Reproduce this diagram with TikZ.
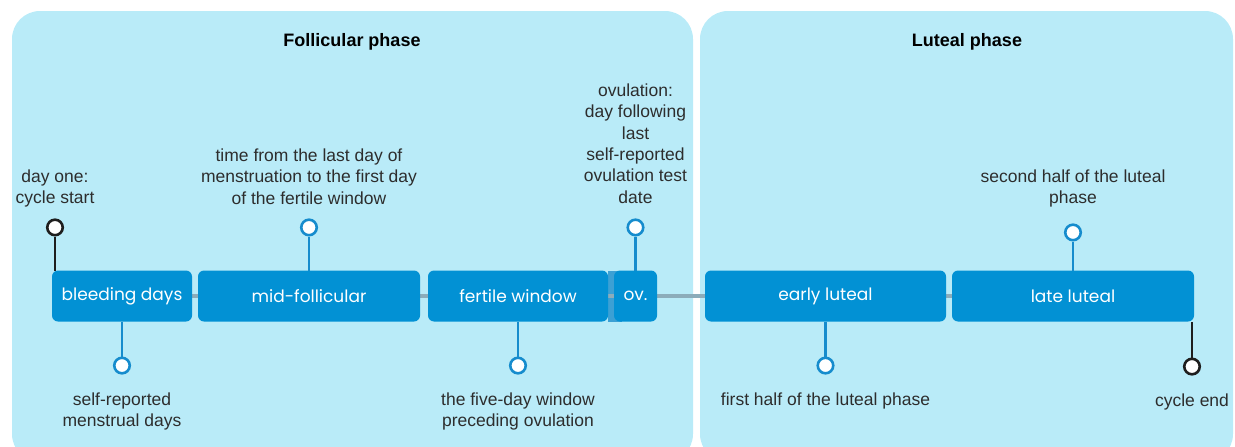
\documentclass[tikz,border=0pt]{standalone}
\usepackage{fontspec}
\setmainfont{Liberation Sans}
\newfontfamily\boxfont{Poppins}
\usetikzlibrary{positioning, backgrounds}
\definecolor{panelblue}{RGB}{185,235,248}
\definecolor{boxblue}{RGB}{2,145,212}
\definecolor{stripblue}{RGB}{60,160,212}
\definecolor{pinblue}{RGB}{22,140,205}
\definecolor{pinblack}{RGB}{30,30,30}
\definecolor{linegrey}{RGB}{140,172,186}
\definecolor{textgrey}{RGB}{45,45,45}
\tikzset{stagebox/.style={fill=boxblue, text=white, rounded corners=6pt, % the coloured stages on the timeline
    minimum height=51pt, inner sep=0pt, outer sep=0pt,
    font=\boxfont\fontsize{17}{20}\selectfont},
    knob/.style={circle, draw=pinblue, fill=white, line width=2.6pt, % round end of a pin
    minimum size=15.5pt, inner sep=0pt},
    pinstem/.style={draw=pinblue, line width=2.6pt},
    note/.style={align=center, text=textgrey, inner sep=0pt,
    font=\fontsize{17.5}{21.3}\selectfont},
    phasetitle/.style={font=\bfseries\fontsize{18}{21}\selectfont, text=black},
    timeline/.style={draw=linegrey, line width=4pt}}

\begin{document}
\begin{tikzpicture}[x=1pt, y=-1pt]
        \useasboundingbox (0,0) rectangle (1235,447);
        \begin{scope}[on background layer]
            \fill[panelblue, rounded corners=28pt] (12,11) rectangle (693,462);
            \fill[panelblue, rounded corners=28pt] (700,11) rectangle (1233,462);
        \end{scope}
        \node[phasetitle] (follicular) at (352,42) {Follicular phase};
        \node[phasetitle] (luteal) at (967,42) {Luteal phase};

        % stages
        \node[stagebox, minimum width=140pt] (bleed) at (122,296) {bleeding days};
        \node[stagebox, minimum width=222pt, right=6pt of bleed] (mid) {mid-follicular};
        \node[stagebox, minimum width=180pt, right=8pt of mid] (fertile) {fertile window};
        \node[stagebox, minimum width=43pt, right=6pt of fertile] (ov) {ov.};
        \node[stagebox, minimum width=241pt, right=48pt of ov] (early) {early luteal};
        \node[stagebox, minimum width=242pt, right=6pt of early] (late) {late luteal};

        \begin{scope}[on background layer]
            \fill[stripblue] (fertile.north east) rectangle ([xshift=8pt]ov.south west);
            \draw[timeline] (bleed.west) -- (late.east);
        \end{scope}

        % pins
        \node[knob, draw=pinblack, above=34pt of bleed.north west, xshift=3pt] (start) {};
        \node[knob, below=35pt of bleed] (bleedpin) {};
        \node[knob, above=34pt of mid] (midpin) {};
        \node[knob, below=35pt of fertile] (fertilepin) {};
        \node[knob, above=34pt of ov] (ovpin) {};
        \node[knob, below=35pt of early] (earlypin) {};
        \node[knob, above=29pt of late] (latepin) {};
        \node[knob, draw=pinblack, below=36pt of late.south east, xshift=-2pt] (end) {};

        \draw[pinstem, draw=pinblack] (start) -- (start |- bleed.north);
        \draw[pinstem] (bleed) -- (bleedpin);
        \draw[pinstem] (mid) -- (midpin);
        \draw[pinstem] (fertile) -- (fertilepin);
        \draw[pinstem] (ov) -- (ovpin);
        \draw[pinstem] (early) -- (earlypin);
        \draw[pinstem] (late) -- (latepin);
        \draw[pinstem, draw=pinblack] (end) -- (end |- late.south);

        % notes
        \node[note, above=11pt of start] (starttxt) {day one:\\cycle start};
        \node[note, below=18pt of bleedpin] (bleedtxt) {self-reported\\menstrual days};
        \node[note, above=14pt of midpin] (midtxt) {time from the last day of\\menstruation to the first day\\of the fertile window};
        \node[note, below=18pt of fertilepin] (fertiletxt) {the five-day window\\preceding ovulation};
        \node[note, above=15pt of ovpin] (ovtxt) {ovulation:\\day following\\last\\self-reported\\ovulation test\\date};
        \node[note, below=18pt of earlypin] (earlytxt) {first half of the luteal phase};
        \node[note, above=16pt of latepin] (latetxt) {second half of the luteal\\phase};
        \node[note, below=18pt of end] (endtxt) {cycle end};
    \end{tikzpicture}
\end{document}
